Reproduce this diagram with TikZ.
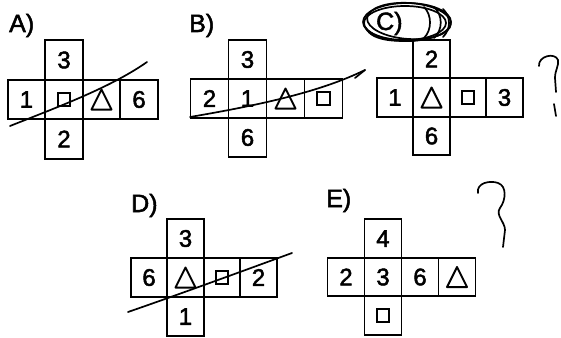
\documentclass[tikz,border=0pt]{standalone}
\usepackage{fontspec}
\setmainfont{Liberation Sans}
\newfontfamily\heavyfont[FakeBold=2]{Liberation Sans}
\newcommand\sqsym{\tikz\draw[line width=2pt] (0,0) rectangle (12.5pt,12.5pt);}
\newcommand\trisym{\tikz\draw[line width=2pt,line join=round] (0,0) -- (20pt,0) -- (10pt,20pt) -- cycle;}
\def\netw{37}
\def\neth{39}
\newcommand\mynet[9]{%
  \node[cell] (#1c) at (#2,#3) {#6};
  \node[cell] (#1l) at ({#2-\netw},#3) {#5};
  \node[cell] (#1r) at ({#2+\netw},#3) {#7};
  \node[cell] (#1rr) at ({#2+2*\netw},#3) {#8};
  \node[cell] (#1t) at (#2,{#3-\neth}) {#4};
  \node[cell] (#1b) at (#2,{#3+\neth}) {#9};
}
\begin{document}
\begin{tikzpicture}[x=1pt,y=-1pt,
  cell/.style={draw, line width=1.9pt, inner sep=0pt, outer sep=0pt,
    minimum width=\netw pt, minimum height=\neth pt,
    font=\heavyfont\fontsize{24}{24}\selectfont},
  lab/.style={anchor=base west, inner sep=0pt, font=\heavyfont\fontsize{25}{25}\selectfont},
  pen/.style={line width=1.7pt, line cap=round, line join=round}]
\useasboundingbox (0,0) rectangle (561,337);
% labels
\node[lab] (labA) at (9,32) {A)};
\node[lab] (labB) at (189,32) {B)};
\node[lab] (labC) at (376,30) {C)};
\node[lab] (labD) at (131,212) {D)};
\node[lab] (labE) at (326,207) {E)};
% nets
\def\netw{37.5}\def\neth{39.5}
\mynet{a}{64}{99.5}{3}{1}{\sqsym}{\trisym}{6}{2}
\def\netw{38}\def\neth{39}
\mynet{b}{247.5}{98.5}{3}{2}{1}{\trisym}{\sqsym}{6}
\def\netw{36.5}\def\neth{38.5}
\mynet{c}{431.5}{97.5}{2}{1}{\trisym}{\sqsym}{3}{6}
\def\netw{36.5}\def\neth{39}
\mynet{d}{185.5}{277.5}{3}{6}{\trisym}{\sqsym}{2}{1}
\def\netw{37}\def\neth{38.5}
\mynet{e}{383}{277}{4}{2}{3}{6}{\trisym}{\sqsym}
% strike lines
\coordinate (sa0) at (10,126); \coordinate (sa1) at (147,62);
\draw[pen] (sa0) .. controls (55,108) and (110,88) .. (sa1);
\coordinate (sb0) at (190,117); \coordinate (sb1) at (365,70);
\draw[pen] (sb0) .. controls (260,105) and (320,92) .. (sb1);
\coordinate (sb2) at (355,78);
\draw[pen] (sb2) -- (sb1);
\coordinate (sd0) at (128,312); \coordinate (sd1) at (292,253);
\draw[pen] (sd0) .. controls (180,294) and (240,272) .. (sd1);
% scribble over C)
\draw[pen] (407,22) ellipse [x radius=44, y radius=19];
\draw[pen] (405,23) ellipse [x radius=41, y radius=17];
\draw[pen,rotate around={-4:(409,21)}] (409,21) ellipse [x radius=42, y radius=18];
\draw[pen] (366,28) .. controls (372,42) and (400,42) .. (420,40);
\coordinate (sc0) at (424,7); \coordinate (sc1) at (424,38);
\draw[pen] (sc0) .. controls (432,15) and (432,30) .. (sc1);
\coordinate (sc2) at (434,7); \coordinate (sc3) at (434,38);
\draw[pen] (sc2) .. controls (443,15) and (443,30) .. (sc3);
\coordinate (sc4) at (443,9); \coordinate (sc5) at (443,37);
\draw[pen] (sc4) .. controls (451,17) and (451,29) .. (sc5);
% question marks
\coordinate (qc0) at (539,66); \coordinate (qc1) at (556,92);
\draw[pen] (qc0) .. controls (538,56) and (555,52) .. (558,60)
  .. controls (559,66) and (555,70) .. (555,78) -- (qc1);
\coordinate (qc2) at (554,104); \coordinate (qc3) at (556,116);
\draw[pen] (qc2) -- (qc3);
\coordinate (qe0) at (478,193); \coordinate (qe1) at (503,247);
\draw[pen] (qe0) .. controls (476,183) and (490,180) .. (498,183)
  .. controls (507,186) and (506,200) .. (500,208)
  .. controls (495,215) and (505,222) .. (505,230) -- (qe1);
\end{tikzpicture}
\end{document}
